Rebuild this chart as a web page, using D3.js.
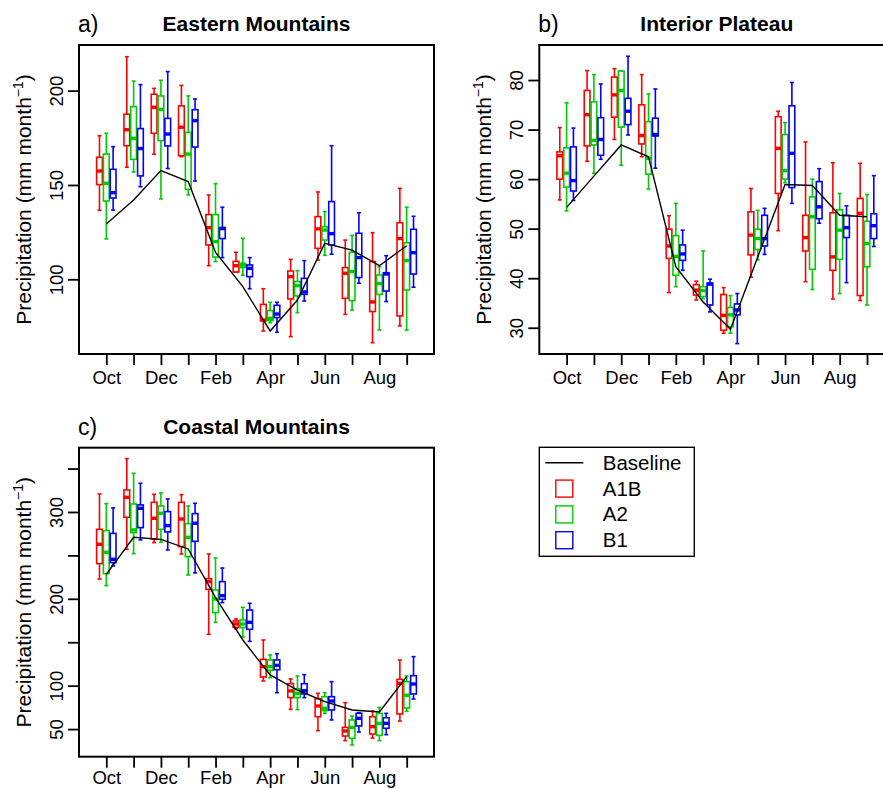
<!DOCTYPE html>
<html>
<head>
<meta charset="utf-8">
<script src="https://cdn.jsdelivr.net/npm/d3@7"></script>
<style>
  body { margin: 0; background: #fff; }
  svg { display: block; font-family: "Liberation Sans", Arial, sans-serif; }
</style>
</head>
<body>
<div class="container"></div>
<script>
// months on the x axis, only every other one gets a label
const months = ["Oct", "Nov", "Dec", "Jan", "Feb", "Mar", "Apr", "May", "Jun", "Jul", "Aug", "Sep"];
const monthLabels = ["Oct", "", "Dec", "", "Feb", "", "Apr", "", "Jun", "", "Aug", ""];
const scenarios = ["A1B", "A2", "B1"];

// box stats per month: [low whisker, q1, median, q3, high whisker]
const easternA1B = [[136.6,150.2,157.4,164.7,176.1],[159.4,170.8,179.3,187.5,218],[166.3,177.4,191.2,198.1,201.2],[165,165.5,180.6,191.9,202.8],[107.2,118.2,127.4,134.3,144.7],[103.9,103.9,107.2,109.5,114.3],[72.6,78.1,78.4,86.7,95],[69.6,89.6,101.4,104.4,110.6],[110.2,116.4,126.7,133.2,146.3],[81.4,89.9,103.2,106.2,120.8],[66.4,82.9,88,109.4,124.7],[75.3,80.6,121.6,130,148.2]];
const easternA2 = [[121.4,141.5,150.9,166.4,177.4],[156.9,163.6,174.7,191.5,205.1],[142.6,173.5,190.1,197.2,205.5],[144.7,147.7,166.4,177.9,197.2],[109.4,111.8,120,134.3,150.7],[102.1,106.2,107.4,108.5,121.7],[77,78.1,79.3,83.4,87.8],[82.3,91.2,96.6,98.8,104.6],[112.7,120.8,126.1,127.9,135.9],[83.7,88.7,104.1,114.3,123.3],[73.1,92,97.7,102.3,106.7],[73.1,94.3,109.9,119.4,138.2]];
const easternB1 = [[136.7,143.1,145.9,158.3,170.3],[149.1,154.8,169.3,179.9,203.2],[158.7,170.7,177,185.3,210.1],[152.1,170.1,184.1,189.9,195.6],[111.5,121.6,126.9,127.4,138.2],[95,101.4,105.8,107.6,111.5],[71.9,79.7,81.6,86.2,87.8],[88.5,92,93.3,100.5,109.9],[113.3,118.2,124.2,141.2,170.8],[97.9,100.9,111.5,124.4,135.3],[88.2,93.8,102.8,103.5,112.5],[95.8,102.8,114.1,126.5,133.4]];
const easternBaseline = [129.3,142,157.6,151.8,114.3,96.1,72.6,89,119.1,115.5,107.2,117.8];

const interiorA1B = [[55.8,60,64.7,65.5,70.4],[63.6,66.7,73,77.9,81.9],[68,72.5,77,80.6,82.3],[64.5,67.1,68.8,75,81.1],[37.1,44,46.5,49.9,52.6],[35.6,36.6,37.6,38.7,39.4],[28.9,29.5,32.5,36.7,38.1],[40.2,44.7,48.7,53.4,58.1],[49.6,57.1,66.2,72.6,73.7],[39.3,45.5,48.2,52.7,67.5],[35.8,41.6,44.3,53.2,63.3],[35.5,36.5,53.1,56.1,63.2]];
const interiorA2 = [[53.6,58.4,61.2,66.3,75.4],[61.2,66.9,67.8,75.6,81.1],[62.8,70.5,77.9,81.8,81.8],[58,61,64.2,71.6,77.2],[38.3,40.6,44.4,48.6,55.1],[35.9,36.3,37.5,38.3,45.5],[28.9,30.2,32.6,34.1,36.5],[43.7,45.8,48,49.9,53.7],[59.3,60,61.7,69,71.4],[37.7,41.8,52.4,56.4,60],[36.9,43.8,49.7,53.8,57.1],[34.6,42.3,47,51.5,56.9]];
const interiorB1 = [[55.7,57.6,59.7,66.5,70.3],[64,64.8,68,72.4,79.2],[68.9,71,73.7,76.3,84.8],[62.2,68.7,69,72.3,78.2],[41.6,43.6,44.9,46.7,49.7],[33.2,34.6,38.8,39,39.8],[26.8,32.6,33.6,34.8,36.9],[44.8,46.5,48,52.7,54.1],[55.1,58.3,65.2,74.8,79.5],[51.1,52,54.4,59.5,62.1],[39.1,48.2,50.2,52.7,54.6],[46.4,48,50.6,53,60.7]];
const interiorBaseline = [54.3,60.6,66.9,64.5,42.3,35.2,29.7,44.3,58.9,58.7,52.7,52.4];

const coastalA1B = [[222.8,240.5,262.8,280,320.7],[257,293.9,316.9,325.3,361.4],[264.7,268.9,292.7,311.1,320.3],[251.6,260.1,291.9,311.1,320],[159.1,210.9,219.8,223.2,251.6],[165.6,167.2,171,174.5,176.8],[105.4,110,121.9,130.3,152.6],[72.7,86.2,93.9,102.3,107.7],[48.2,64.3,76.6,85,91.2],[36.7,42,47.8,52,80.4],[39.7,44.3,52.8,64.3,70.8],[59.3,67.4,102.7,107.3,129.6]];
const coastalA2 = [[215.2,229,253.6,278.5,309.6],[252,276.2,279.3,309.2,344.5],[265.1,280,298.5,306.9,321.9],[227.4,248.6,270.8,286.6,306.9],[172.9,184.1,199.8,210.2,247],[156,166.8,171,175.6,190.2],[109.2,117.7,121.9,129.6,135.3],[72.4,86.2,91.2,96.5,111.1],[68.1,71.2,73.9,87.3,91.9],[31.7,39.4,52,60.5,65],[36.7,42.8,56.6,68.1,75],[70.5,74.3,88.9,104.6,111.1]];
const coastalB1 = [[238,241.7,245.5,275.4,304.6],[267.8,282,304.2,308.1,333],[256.2,277,284.3,300.4,315],[229.8,266.2,287,298.1,310],[195.6,199.4,203.6,219.8,235.5],[151,164.9,172.9,187.1,194.8],[91.9,118.4,123.4,129.6,136.8],[86.2,90.4,94.2,102.3,112.7],[60.5,72,82.3,87.3,104.6],[46.6,53.6,62.4,68.1,68.9],[43.6,50.9,56.6,63.1,68.1],[84.6,90.4,101.9,111.5,133.4]];
const coastalBaseline = [228.2,270.8,268.5,257.4,201.3,152.6,112.3,95,81.6,72,69.7,110.4];

// y ticks per panel (labels: R drops some when they would overlap)
const easternTicks = [100, 150, 200];
const interiorTicks = [30, 40, 50, 60, 70, 80];
const coastalTicks = [50, 100, 150, 200, 250, 300, 350];
const coastalTickLabels = [50, 100, 200, 300];

main();

function main() {
  const container = document.querySelector(".container");
  const W = 883, H = 789;
  const colors = { A1B: "#ff0000", A2: "#00cd00", B1: "#0000ff" };
  const offsets = { A1B: -0.25, A2: 0, B1: 0.25 };
  const boxW = 0.21;

  const svg = d3.create("svg").attr("width", W).attr("height", H);
  svg.append("rect").attr("width", W).attr("height", H).attr("fill", "#fff");

  const panels = [
    { tag: "a)", title: "Eastern Mountains", left: 79, top: 45, yDomain: [60.4, 224.2],
      series: { A1B: easternA1B, A2: easternA2, B1: easternB1 }, base: easternBaseline,
      ticks: easternTicks, tickLabels: easternTicks, labelY: 30 },
    { tag: "b)", title: "Interior Plateau", left: 539.3, top: 45, yDomain: [24.7, 87.07],
      series: { A1B: interiorA1B, A2: interiorA2, B1: interiorB1 }, base: interiorBaseline,
      ticks: interiorTicks, tickLabels: interiorTicks, labelY: 30 },
    { tag: "c)", title: "Coastal Mountains", left: 79, top: 447.7, yDomain: [18.2, 374],
      series: { A1B: coastalA1B, A2: coastalA2, B1: coastalB1 }, base: coastalBaseline,
      ticks: coastalTicks, tickLabels: coastalTickLabels, labelY: 27.5 },
  ];

  const pw = 355, ph = 309;

  panels.forEach((p) => {
    const g = svg.append("g").attr("transform", `translate(${p.left},${p.top})`);

    const x = d3.scaleLinear().domain([0, 13]).range([0, pw]);
    const y = d3.scaleLinear().domain(p.yDomain).range([ph, 0]);

    // boxes
    scenarios.forEach((s) => {
      const col = colors[s];
      const bg = g.append("g");
      const rows = p.series[s].map((d, i) => ({ i, d }));
      const cx = (r) => x(r.i + 1 + offsets[s]);
      const bw = x(boxW) - x(0);

      // whiskers
      bg.selectAll(".wh").data(rows).join("line")
        .attr("x1", cx).attr("x2", cx)
        .attr("y1", (r) => y(r.d[0])).attr("y2", (r) => y(r.d[4]))
        .attr("stroke", col).attr("stroke-width", 1.6);
      // staples
      [0, 4].forEach((k) => {
        bg.selectAll(".st" + k).data(rows).join("line")
          .attr("x1", (r) => cx(r) - bw * 0.35).attr("x2", (r) => cx(r) + bw * 0.35)
          .attr("y1", (r) => y(r.d[k])).attr("y2", (r) => y(r.d[k]))
          .attr("stroke", col).attr("stroke-width", 1.6);
      });
      // box
      bg.selectAll(".bx").data(rows).join("rect")
        .attr("x", (r) => cx(r) - bw / 2).attr("width", bw)
        .attr("y", (r) => y(r.d[3])).attr("height", (r) => Math.max(0.5, y(r.d[1]) - y(r.d[3])))
        .attr("fill", "#fff").attr("stroke", col).attr("stroke-width", 1.6);
      // median
      bg.selectAll(".md").data(rows).join("line")
        .attr("x1", (r) => cx(r) - bw / 2).attr("x2", (r) => cx(r) + bw / 2)
        .attr("y1", (r) => y(r.d[2])).attr("y2", (r) => y(r.d[2]))
        .attr("stroke", col).attr("stroke-width", 3.4);
    });

    // baseline
    const line = d3.line().x((d, i) => x(i + 1)).y((d) => y(d));
    g.append("path").datum(p.base).attr("d", line)
      .attr("fill", "none").attr("stroke", "#000").attr("stroke-width", 1.4);

    // frame
    g.append("rect").attr("width", pw).attr("height", ph)
      .attr("fill", "none").attr("stroke", "#000").attr("stroke-width", 2);

    // x axis
    const xAxis = d3.axisBottom(x)
      .tickValues(d3.range(1, 13))
      .tickSize(11).tickSizeOuter(0)
      .tickFormat((d) => monthLabels[d - 1]);
    g.append("g").attr("transform", `translate(0,${ph})`).call(xAxis)
      .call((a) => a.select(".domain").remove())
      .call((a) => a.selectAll(".tick line").attr("stroke", "#000").attr("stroke-width", 1.8))
      .call((a) => a.selectAll(".tick text")
        .attr("y", p.labelY).attr("dy", 0)
        .style("font-size", "18.5px").style("font-family", "Liberation Sans, Arial, sans-serif")
        .attr("fill", "#000"));

    // y axis
    const yAxis = d3.axisLeft(y)
      .tickValues(p.ticks).tickSize(11).tickSizeOuter(0)
      .tickFormat((d) => (p.tickLabels.includes(d) ? d : ""));
    g.append("g").call(yAxis)
      .call((a) => a.select(".domain").remove())
      .call((a) => a.selectAll(".tick line").attr("stroke", "#000").attr("stroke-width", 1.8))
      .call((a) => a.selectAll(".tick text")
        .attr("x", 0).attr("dy", 0)
        .attr("transform", "translate(-16,0) rotate(-90)")
        .attr("text-anchor", "middle")
        .style("font-size", "18.5px").style("font-family", "Liberation Sans, Arial, sans-serif")
        .attr("fill", "#000"));

    // y label
    const yl = g.append("text")
      .attr("transform", `translate(-48,${ph / 2}) rotate(-90)`)
      .attr("text-anchor", "middle")
      .style("font-size", "21px");
    yl.append("tspan").text("Precipitation (mm month");
    yl.append("tspan").attr("dy", -8).style("font-size", "14px").text("\u22121");
    yl.append("tspan").attr("dy", 8).text(")");

    // title and tag
    g.append("text").attr("x", pw / 2).attr("y", -14)
      .attr("text-anchor", "middle").style("font-size", "21px").style("font-weight", "bold")
      .text(p.title);
    g.append("text").attr("x", -1).attr("y", -13)
      .style("font-size", "23px").text(p.tag);
  });

  // legend
  const lg = svg.append("g").attr("transform", "translate(539.3,447.3)");
  lg.append("rect").attr("width", 155).attr("height", 109)
    .attr("fill", "#fff").attr("stroke", "#000").attr("stroke-width", 1.4);
  const legendRows = ["Baseline"].concat(scenarios);
  legendRows.forEach((name, i) => {
    const ry = 15.5 + i * 25.8;
    if (i === 0) {
      lg.append("line").attr("x1", 6).attr("x2", 44).attr("y1", ry).attr("y2", ry)
        .attr("stroke", "#000").attr("stroke-width", 1.4);
    } else {
      lg.append("rect").attr("x", 16.5).attr("y", ry - 8.5).attr("width", 17).attr("height", 17)
        .attr("fill", "none").attr("stroke", colors[name]).attr("stroke-width", 1.4);
    }
    lg.append("text").attr("x", 63.5).attr("y", ry + 7)
      .style("font-size", "20.5px").text(name);
  });

  container.append(svg.node());
}
</script>
</body>
</html>
